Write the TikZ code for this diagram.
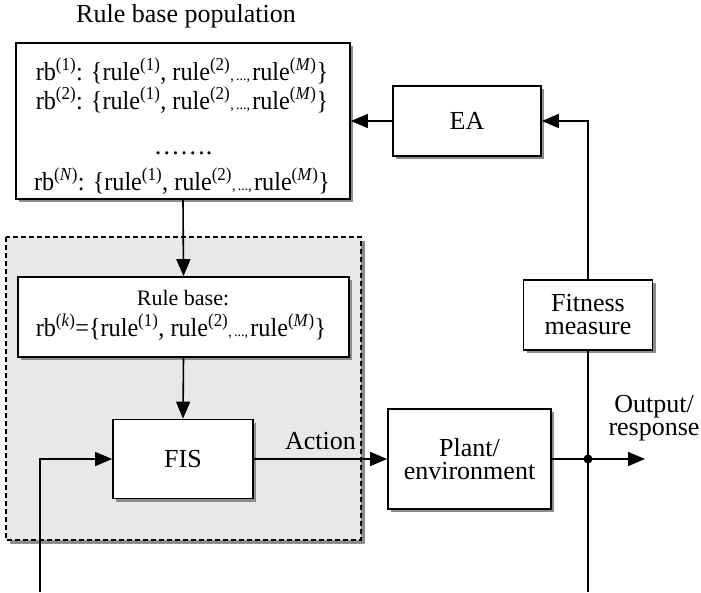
\documentclass[tikz,border=0pt]{standalone}
\usepackage{fontspec}
\usepackage{graphicx}
\setmainfont{Liberation Serif}
\usetikzlibrary{arrows.meta,shadows}
\newcommand{\smalldots}{{\fontsize{15}{15}\selectfont,\,...,\,}}
\newcommand{\rulelist}{\{rule\textsuperscript{(1)}, rule\textsuperscript{(2)}\smalldots rule\textsuperscript{(\textit{M})}\}}
\newcommand{\narrow}[1]{\scalebox{0.93}[1]{#1}}
\begin{document}
\begin{tikzpicture}[x=1pt,y=-1pt,
  font=\fontsize{26}{23}\selectfont,
  blk/.style={draw=black, line width=1.7pt, fill=white, inner sep=0pt,
    drop shadow={shadow xshift=3pt, shadow yshift=-3pt, fill=black!45, opacity=1}},
  txt/.style={inner sep=0pt, anchor=base},
  lbl/.style={inner sep=0pt, align=center},
  arr/.style={line width=1.6pt, -{Triangle[length=17pt,width=14pt]}},
  ln/.style={line width=1.6pt}]
\useasboundingbox (0,0) rectangle (701,592);
% shaded FIS region
\fill[black!45] (10,241) rectangle (365,544);
\draw[line width=1.4pt, dash pattern=on 5pt off 3pt, fill=black!9] (6,237) rectangle (361,540);
% rule base population
\node[txt] (title) at (186,22) {Rule base population};
\node[blk, minimum width=334pt, minimum height=156pt] (pop) at (183,121) {};
\node[txt] (r1) at (182,80) {\narrow{rb\textsuperscript{(1)}: \rulelist}};
\node[txt] (r2) at (182,109) {\narrow{rb\textsuperscript{(2)}: \rulelist}};
\node[txt] (rd) at (183,154) {\ldots\ldots.};
\node[txt] (rn) at (182,190) {\narrow{rb\textsuperscript{(\textit{N})}: \rulelist}};
% EA
\node[blk, minimum width=148pt, minimum height=70pt] (ea) at (467,121) {EA};
% selected rule base
\node[blk, minimum width=331pt, minimum height=80pt] (rbk) at (183.5,317) {};
\node[txt, font=\fontsize{22}{22}\selectfont] (rbt) at (183,305) {Rule base:};
\node[txt] (rbl) at (181,336) {\narrow{rb\textsuperscript{(\textit{k})}=\rulelist}};
% FIS, plant, fitness
\node[blk, minimum width=140pt, minimum height=79pt] (fis) at (183,459) {FIS};
\node[blk, lbl, minimum width=163pt, minimum height=100pt] (plant) at (469.5,459) {Plant/\\environment};
\node[blk, lbl, minimum width=129pt, minimum height=70pt] (fit) at (588,315) {Fitness\\measure};
% free ends
\coordinate (in) at (40,592);
\coordinate (out) at (645,459);
\coordinate (bot) at (588,592);
\coordinate (j) at (fit.south |- plant.east);
% connectors
\draw[arr] (pop.south) -- (rbk.north);
\draw[arr] (rbk.south) -- (fis.north);
\draw[arr] (fis.east) -- node[lbl, above=8pt] (act) {Action} (plant.west);
\draw[arr] (in) |- (fis.west);
\draw[arr] (ea.west) -- (pop.east);
\draw[arr] (fit.north) |- (ea.east);
\draw[ln] (fit.south) -- (bot);
\draw[arr] (plant.east) -- (out);
\fill (j) circle (4.5pt);
\node[lbl] (outl) at (654,418) {Output/\\response};
\end{tikzpicture}
\end{document}
